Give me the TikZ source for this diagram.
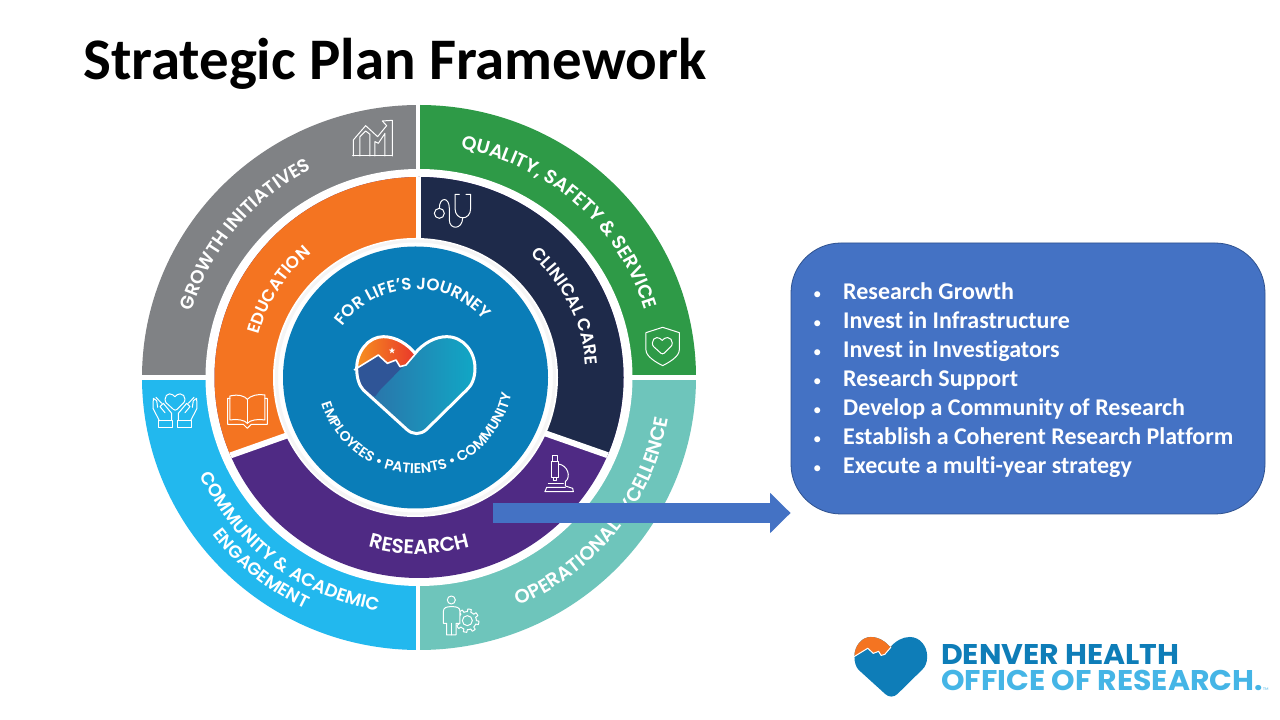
\documentclass[tikz,border=0pt]{standalone}
\usepackage{fontspec}
\usetikzlibrary{arrows.meta,decorations.text,shapes.geometric}
\setmainfont{Carlito}[Ligatures=NoCommon]
\newfontfamily\ringfont{Poppins}[UprightFont=* SemiBold,BoldFont=* Bold]
\newfontfamily\logofont{Poppins}[UprightFont=* SemiBold,BoldFont=* Bold,FakeStretch=1.05]
\definecolor{cgray}{HTML}{808285}
\definecolor{cgreen}{HTML}{2E9A47}
\definecolor{corange}{HTML}{F47421}
\definecolor{cnavy}{HTML}{1E2A4A}
\definecolor{csky}{HTML}{22B8EE}
\definecolor{cteal}{HTML}{6EC5BB}
\definecolor{cpurple}{HTML}{4F2A84}
\definecolor{ccentre}{HTML}{0A7DB8}
\definecolor{cbox}{HTML}{4472C4}
\definecolor{cboxline}{HTML}{2F528F}
\definecolor{clogoa}{HTML}{0E7DB8}
\definecolor{clogob}{HTML}{45B5E6}
\definecolor{cmount}{HTML}{2F5597}
\definecolor{cheartl}{HTML}{2E6DA6}
\definecolor{cheartr}{HTML}{10A8C6}
\definecolor{ccapl}{HTML}{F7941E}
\definecolor{ccapr}{HTML}{E8352B}
\newcommand\arctext[6]{%
  \pgfmathsetmacro\rxx{1.008*#4}\pgfmathsetmacro\ryy{0.992*#4}%
  \path[shift={(#1)},decorate,decoration={text along path,text align=center,text={|#5|#6}}]
    (#2:\rxx pt and \ryy pt) arc[start angle=#2,end angle=#3,x radius=\rxx pt,y radius=\ryy pt];}
\newcommand\heartpath{(405,340) .. controls (430,310) and (465,290) .. (500,290)
  .. controls (550,290) and (585,335) .. (585,385)
  .. controls (585,415) and (575,437) .. (560,450) -- (440,568)
  .. controls (422,585) and (398,585) .. (380,568) -- (250,450)
  .. controls (238,437) and (230,415) .. (230,385)
  .. controls (230,335) and (265,290) .. (310,290)
  .. controls (350,290) and (385,315) .. (405,340) -- cycle}
\newcommand\ridgeline{(222,390) -- (295,345) -- (322,370) -- (348,360) -- (360,380) -- (378,375) -- (408,340)}
\newcommand\capregion{(225,285) -- (410,285) -- (410,340) -- (378,375) -- (360,380) -- (348,360) -- (322,370) -- (295,345) -- (222,390) -- cycle}
\tikzset{
  zoomat/.style 2 args={shift={(#1,#2)},x=0.3333pt,y=-0.3333pt},
  heartat/.style n args={3}{shift={({#1-407*#3},{#2-435*#3})},x=#3 pt,y=-#3 pt},
  icon/.style={draw=white,line width=1pt,line join=round,line cap=round},
  listitem/.style={anchor=base west,text=white,font=\fontsize{24}{26}\selectfont\bfseries,inner sep=0pt},
  logotext/.style={anchor=base west,inner sep=0pt,font=\logofont\bfseries\fontsize{28.5}{30}\selectfont},
}
\begin{document}
\begin{tikzpicture}[x=1pt,y=-1pt,yshift=720pt]
\useasboundingbox (0,0) rectangle (1280,720);
\fill[white] (0,0) rectangle (1280,720);
\node[anchor=base west,inner sep=0pt,font=\fontsize{58.9}{60}\selectfont\bfseries] (title) at (83,80) {Strategic Plan Framework};
% outer ring
\coordinate (oc) at (419,377.5);
\begin{scope}
  \clip (oc) ellipse [x radius=277pt,y radius=272.5pt];
  \fill[cgray] (130,95) rectangle (416,375);
  \fill[cgreen] (420,95) rectangle (710,375);
  \fill[csky] (130,380) rectangle (416,660);
  \fill[cteal] (420,380) rectangle (710,660);
\end{scope}
\fill[white] (oc) ellipse [x radius=213.5pt,y radius=208.5pt];
% middle ring
\begin{scope}
  \clip (oc) ellipse [x radius=204.5pt,y radius=200.5pt];
  \fill[cpurple] (200,170) rectangle (640,590);
  \fill[corange] (418.5,389) -- (200,466.2) -- (200,170) -- (418.5,170) -- cycle;
  \fill[cnavy] (418.5,389) -- (640,466.5) -- (640,170) -- (418.5,170) -- cycle;
  \fill[white] (416,165) rectangle (421,392);
  \draw[white,line width=6pt] (418.5,389) -- (200,466.2);
  \draw[white,line width=6pt] (418.5,389) -- (640,466.5);
\end{scope}
\fill[white] (415.5,377.5) ellipse [x radius=142.5pt,y radius=139.5pt];
\draw[black!4,line width=3pt] (415.5,377.5) ellipse [x radius=139pt,y radius=136.5pt];
\fill[ccentre] (415.5,377.5) ellipse [x radius=132.5pt,y radius=131pt];
% ring labels
\newcommand\rs[1]{\ringfont\fontsize{#1}{20}\selectfont\color{white}}
\arctext{419,377.5}{210.5}{70.5}{235}{\rs{18.5}}{GROWTH INITIATIVES}
\arctext{419,377.5}{128}{-32}{234}{\rs{19}}{QUALITY, SAFETY {\&} SERVICE}
\arctext{419,377.5}{96}{-44}{166}{\rs{17.3}}{CLINICAL CARE}
\arctext{419,377.5}{218}{78}{164.5}{\rs{17}}{EDUCATION}
\arctext{419,377.5}{190}{350}{178}{\rs{20}}{RESEARCH}
\arctext{419,377.5}{162}{302}{238.5}{\rs{18}}{COMMUNITY {\&} ACADEMIC}
\arctext{419,377.5}{160.5}{300.5}{259}{\rs{17.7}}{ENGAGEMENT}
\arctext{419,377.5}{238.7}{378.7}{250.5}{\rs{19.3}}{OPERATIONAL}
\arctext{419,377.5}{267.5}{407.5}{250.5}{\rs{19.3}}{EXCELLENCE}
\arctext{415.5,377.5}{172.5}{12.5}{89}{\rs{16.7}}{FOR LIFE’S JOURNEY}
\arctext{415.5,377.5}{173}{373}{96.5}{\rs{14.1}}{EMPLOYEES   •   PATIENTS   •   COMMUNITY}
% big heart
\begin{scope}[heartat={415.67}{385}{0.3333}]
  \begin{scope}
    \clip \heartpath;
    \shade[left color=cheartl,right color=cheartr] (225,285) rectangle (590,590);
    \fill[cmount] \ridgeline -- (300,450) -- (285,470) -- (222,440) -- cycle;
    \shade[left color=ccapl,right color=ccapr] \capregion;
  \end{scope}
  \draw[white,line width=1.6pt,line join=round] \ridgeline;
  \draw[white,line width=3pt,line join=round] \heartpath;
  \node[star,star points=5,star point ratio=2.4,fill=white,minimum size=6.5pt,inner sep=0pt] (bigstar) at (336,332) {};
\end{scope}
% logo
\begin{scope}[heartat={890.7}{666.7}{0.205}]
  \fill[clogoa] \heartpath;
  \begin{scope}
    \clip \heartpath;
    \fill[corange] \capregion;
  \end{scope}
  \draw[white,line width=1pt,line join=round] \ridgeline;
\end{scope}
\node[logotext,text=clogoa] (logoa) at (941,665) {DENVER HEALTH};
\node[logotext,text=clogob] (logob) at (941,691) {OFFICE OF RESEARCH.};
\node[anchor=base west,inner sep=0pt,text=clogob,font=\fontsize{4}{4}\selectfont] (logotm) at (1263,691) {TM};
% icons: chart
\begin{scope}[zoomat={130}{95}]
  \draw[icon] (668,183) -- (787,183);
  \draw[icon] (670,183) -- (670,135) -- (707,92) -- (743,125) -- (770,92) -- (757,78) -- (787,76) -- (787,183);
  \draw[icon] (690,183) -- (690,125) -- (707,108) -- (720,118) -- (720,183);
  \draw[icon] (735,183) -- (735,140) -- (745,145) -- (765,115) -- (765,183);
\end{scope}
% stethoscope and shield
\begin{scope}[zoomat={410}{95}]
  \draw[icon] (148,298) -- (135,298) -- (135,340) .. controls (135,378) and (182,378) .. (182,340) -- (182,298) -- (168,298);
  \draw[icon] (88,355) circle [radius=15];
  \draw[icon] (88,340) .. controls (88,305) and (118,305) .. (118,340) -- (118,375) .. controls (118,405) and (158,405) .. (158,368);
  \draw[icon] (758,697) -- (708,713) -- (708,765) .. controls (708,785) and (740,803) .. (758,812) .. controls (776,803) and (808,785) .. (808,765) -- (808,713) -- cycle;
\end{scope}
\begin{scope}[heartat={662.3}{345.7}{0.056}]
  \draw[icon] \heartpath;
\end{scope}
% hands
\begin{scope}[heartat={175}{402}{0.056}]
  \draw[icon] \heartpath;
\end{scope}
\begin{scope}[zoomat={130}{370}]
  \foreach \m in {1,-1}{
    \begin{scope}[shift={(135,0)},xscale=\m]
      \draw[icon] (-50,152) rectangle (-7,173);
      \draw[icon] (-47,152) -- (-66,115) -- (-65,85) -- (-55,92) -- (-52,112);
      \draw[icon] (-10,152) -- (-10,130) -- (-35,100) -- (-45,110) -- (-30,128);
      \draw[icon] (-57,82) -- (-40,100);
    \end{scope}
  }
  % book
  \draw[icon] (300,78) .. controls (325,72) and (345,78) .. (352,88) .. controls (360,78) and (385,70) .. (405,75) -- (405,150) .. controls (385,146) and (360,150) .. (352,160) .. controls (345,150) and (320,146) .. (300,150) -- cycle;
  \draw[icon] (352,88) -- (352,160);
  \draw[icon] (300,85) -- (293,85) -- (293,163) -- (340,163) -- (352,175) -- (364,163) -- (412,163) -- (412,85) -- (405,85);
\end{scope}
% microscope and person with gear
\begin{scope}[zoomat={410}{370}]
  \draw[icon] (405,365) -- (490,365) -- (488,355) -- (466,348) -- (466,335) .. controls (485,320) and (472,285) .. (445,282);
  \draw[icon] (405,365) -- (410,352) -- (466,352);
  \draw[icon] (415,342) -- (460,342);
  \draw[icon] (424,275) rectangle (446,322);
  \draw[icon] (429,256) rectangle (442,275);
  \draw[icon] (430,322) rectangle (441,332);
  \draw[icon] (172,752) circle [radius=15];
  \draw[icon] plot[domain=0:360,samples=145] ({172+(27+8*(sin(8*\x)>0))*cos(\x)},{752+(27+8*(sin(8*\x)>0))*sin(\x)});
  \draw[icon,fill=cteal] (100,760) -- (100,725) .. controls (100,712) and (110,710) .. (125,710) .. controls (140,710) and (150,712) .. (150,725) -- (150,760) -- (138,760) -- (138,795) -- (110,795) -- (110,760) -- cycle;
  \draw[icon] (124,690) circle [radius=12];
  \draw[icon] (124,760) -- (124,795);
\end{scope}
% text box
\node[draw=cboxline,line width=0.8pt,fill=cbox,rounded corners=50pt,minimum width=474pt,minimum height=271pt,inner sep=0pt] (box) at (1028,378.5) {};
\foreach \n/\y/\t in {a/300/Research Growth,b/329/Invest in Infrastructure,c/358/Invest in Investigators,d/387/Research Support,e/416/Develop a Community of Research,f/444.5/Establish a Coherent Research Platform,g/473.5/Execute a multi-year strategy}{
  \node[listitem] (item\n) at (813,\y) {\makebox[30pt][l]{\fontsize{17}{20}\selectfont\mdseries •}\t};
}
% arrow
\coordinate (arrowstart) at (493,513);
\coordinate (arrowend) at (box.west |- arrowstart);
\draw[cbox,line width=19.5pt,-{Triangle[length=20.5pt,width=39pt]}] (arrowstart) -- (arrowend);
\end{tikzpicture}
\end{document}
